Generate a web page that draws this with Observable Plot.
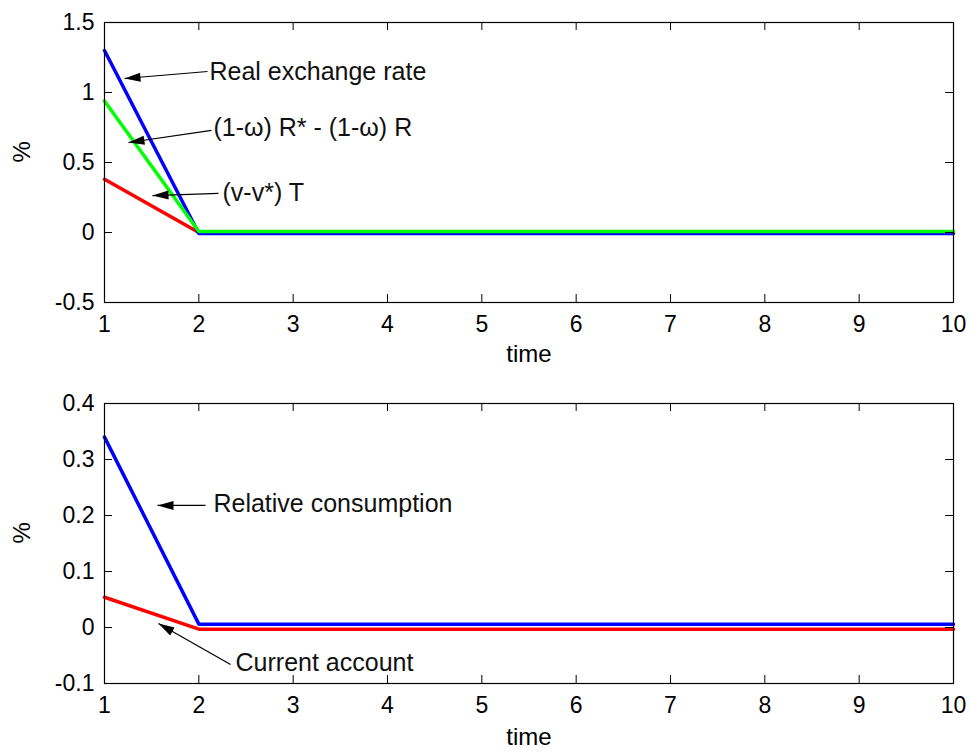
<!DOCTYPE html>
<html>
<head>
<meta charset="utf-8">
<script src="https://cdn.jsdelivr.net/npm/d3@7"></script>
<script src="https://cdn.jsdelivr.net/npm/@observablehq/plot@0.6"></script>
<style>
  body { margin: 0; background: #fff; }
  #chart svg { display: block; }
</style>
</head>
<body>
<div id="chart"></div>
<script>
// ---------- data ----------
const time = [1, 2, 3, 4, 5, 6, 7, 8, 9, 10];

// top panel series
const realExchangeRate = [1.30, -0.007, -0.007, -0.007, -0.007, -0.007, -0.007, -0.007, -0.007, -0.007];
const interestGap      = [0.94, 0.007, 0.007, 0.007, 0.007, 0.007, 0.007, 0.007, 0.007, 0.007];
const termsOfTrade     = [0.38, 0, 0, 0, 0, 0, 0, 0, 0, 0];

// bottom panel series
const relativeConsumption = [0.34, 0.006, 0.006, 0.006, 0.006, 0.006, 0.006, 0.006, 0.006, 0.006];
const currentAccount      = [0.054, -0.003, -0.003, -0.003, -0.003, -0.003, -0.003, -0.003, -0.003, -0.003];

// ticks
const xTicks = [1, 2, 3, 4, 5, 6, 7, 8, 9, 10];
const xTickLabels = ["1", "2", "3", "4", "5", "6", "7", "8", "9", "10"];
const yTicksTop = [-0.5, 0, 0.5, 1, 1.5];
const yTickLabelsTop = ["-0.5", "0", "0.5", "1", "1.5"];
const yTicksBottom = [-0.1, 0, 0.1, 0.2, 0.3, 0.4];
const yTickLabelsBottom = ["-0.1", "0", "0.1", "0.2", "0.3", "0.4"];
const xLabel = "time";
const yLabel = "%";

// annotations (data coordinates)
const topNoteText  = ["Real exchange rate", "(1-ω) R* - (1-ω) R", "(v-v*) T"];
const topTipX   = [1.212, 1.254, 1.509];
const topTipY   = [1.10, 0.643, 0.264];
const topTailX  = [2.092, 2.134, 2.208];
const topTailY  = [1.15, 0.729, 0.279];
const topTextX  = [2.113, 2.155, 2.251];
const topTextY  = [1.15, 0.743, 0.279];

const botNoteText = ["Relative consumption", "Current account"];
const botTipX   = [1.562, 1.572];
const botTipY   = [0.218, 0.007];
const botTailX  = [2.071, 2.336];
const botTailY  = [0.218, -0.066];
const botTextX  = [2.155, 2.389];
const botTextY  = [0.221, -0.0625];

// ---------- drawing ----------
const W = 970, H = 377, ML = 104, MR = 17;
const xDomain = [1, 10];

const arrowHead = {
  draw(context) {
    context.moveTo(0, 0);
    context.lineTo(4.5, 16);
    context.lineTo(-4.5, 16);
    context.closePath();
  }
};

function labelOf(ticks, labels) {
  return d => labels[ticks.indexOf(d)];
}

function panel({series, yDomain, yTicks, yTickLabels, notes, marginTop, marginBottom, timeDy}) {
  const plotW = W - ML - MR;
  const plotH = H - marginTop - marginBottom;
  const kx = plotW / (xDomain[1] - xDomain[0]);
  const ky = plotH / (yDomain[1] - yDomain[0]);
  const TL = 8;
  const marks = [];
  for (const s of series) {
    const rows = time.map((t, i) => ({t, v: s.values[i]}));
    marks.push(Plot.line(rows, {x: "t", y: "v", stroke: s.color, strokeWidth: 3.5}));
  }
  marks.push(
    Plot.frame({stroke: "#000", strokeWidth: 1.2}),
    Plot.tickX(xTicks, {x: d => d, insetTop: plotH - TL, stroke: "#000"}),
    Plot.tickX(xTicks, {x: d => d, insetBottom: plotH - TL, stroke: "#000"}),
    Plot.tickY(yTicks, {y: d => d, insetRight: plotW - TL, stroke: "#000"}),
    Plot.tickY(yTicks, {y: d => d, insetLeft: plotW - TL, stroke: "#000"}),
    Plot.axisX(xTicks, {tickSize: 0, tickPadding: 13, tickFormat: labelOf(xTicks, xTickLabels), label: null, fontSize: 23}),
    Plot.axisY(yTicks, {tickSize: 0, tickPadding: 10, tickFormat: labelOf(yTicks, yTickLabels), label: null, fontSize: 23}),
    Plot.text([xLabel], {text: d => d, frameAnchor: "bottom", dy: timeDy, fontSize: 24}),
    Plot.text([yLabel], {text: d => d, frameAnchor: "left", dx: -82, rotate: -90, fontSize: 24}),
    Plot.link(notes, {x1: "tailX", y1: "tailY", x2: "tipX", y2: "tipY", stroke: "#000", strokeWidth: 1.2}),
    Plot.dot(notes, {
      x: "tipX", y: "tipY", symbol: arrowHead, r: 5, fill: "#000", stroke: "none",
      rotate: d => Math.atan2((d.tipX - d.tailX) * kx, (d.tipY - d.tailY) * ky) * 180 / Math.PI
    }),
    Plot.text(notes, {x: "textX", y: "textY", text: "text", textAnchor: "start", fontSize: 25, fill: "#111"})
  );
  return Plot.plot({
    width: W, height: H,
    marginLeft: ML, marginRight: MR, marginTop, marginBottom,
    x: {domain: xDomain},
    y: {domain: yDomain},
    style: {fontFamily: "'Liberation Sans', Arial, Helvetica, sans-serif", color: "#000", background: "#fff", overflow: "visible"},
    marks
  });
}

function buildNotes(text, tipX, tipY, tailX, tailY, textX, textY) {
  return text.map((t, i) => ({text: t, tipX: tipX[i], tipY: tipY[i], tailX: tailX[i], tailY: tailY[i], textX: textX[i], textY: textY[i]}));
}

const topPanel = panel({
  series: [
    {values: termsOfTrade, color: "#ff0000"},
    {values: realExchangeRate, color: "#0000ff"},
    {values: interestGap, color: "#00ff00"}
  ],
  yDomain: [-0.5, 1.5], yTicks: yTicksTop, yTickLabels: yTickLabelsTop,
  notes: buildNotes(topNoteText, topTipX, topTipY, topTailX, topTailY, topTextX, topTextY),
  marginTop: 22, marginBottom: 75, timeDy: 59
});
const bottomPanel = panel({
  series: [
    {values: currentAccount, color: "#ff0000"},
    {values: relativeConsumption, color: "#0000ff"}
  ],
  yDomain: [-0.1, 0.4], yTicks: yTicksBottom, yTickLabels: yTickLabelsBottom,
  notes: buildNotes(botNoteText, botTipX, botTipY, botTailX, botTailY, botTextX, botTextY),
  marginTop: 26, marginBottom: 71, timeDy: 61
});
document.getElementById("chart").append(topPanel, bottomPanel);
</script>
</body>
</html>
